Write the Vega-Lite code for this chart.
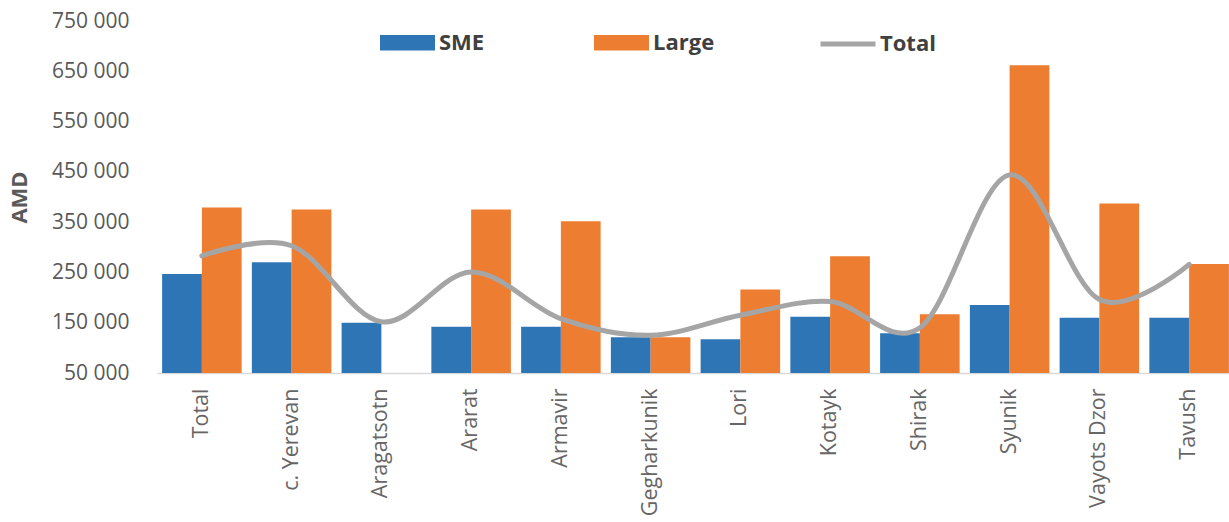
{
  "$schema": "https://vega.github.io/schema/vega-lite/v6.json",
  "width": 1077,
  "height": 352,
  "autosize": "none",
  "padding": {"left": 157, "top": 21, "right": 0, "bottom": 149},
  "background": "white",
  "config": {"font": "Open Sans", "view": {"stroke": null}},
  "data": {
    "values": [
      {"region": "Total", "type": "SME", "value": 247000},
      {"region": "Total", "type": "Large", "value": 379000},
      {"region": "Total", "type": "Total", "value": 283000},
      {"region": "c. Yerevan", "type": "SME", "value": 270000},
      {"region": "c. Yerevan", "type": "Large", "value": 375000},
      {"region": "c. Yerevan", "type": "Total", "value": 303000},
      {"region": "Aragatsotn", "type": "SME", "value": 150000},
      {"region": "Aragatsotn", "type": "Total", "value": 152000},
      {"region": "Ararat", "type": "SME", "value": 142000},
      {"region": "Ararat", "type": "Large", "value": 375000},
      {"region": "Ararat", "type": "Total", "value": 251000},
      {"region": "Armavir", "type": "SME", "value": 142000},
      {"region": "Armavir", "type": "Large", "value": 352000},
      {"region": "Armavir", "type": "Total", "value": 158000},
      {"region": "Gegharkunik", "type": "SME", "value": 121000},
      {"region": "Gegharkunik", "type": "Large", "value": 121000},
      {"region": "Gegharkunik", "type": "Total", "value": 125000},
      {"region": "Lori", "type": "SME", "value": 117000},
      {"region": "Lori", "type": "Large", "value": 216000},
      {"region": "Lori", "type": "Total", "value": 165000},
      {"region": "Kotayk", "type": "SME", "value": 162000},
      {"region": "Kotayk", "type": "Large", "value": 282000},
      {"region": "Kotayk", "type": "Total", "value": 192000},
      {"region": "Shirak", "type": "SME", "value": 129000},
      {"region": "Shirak", "type": "Large", "value": 167000},
      {"region": "Shirak", "type": "Total", "value": 140000},
      {"region": "Syunik", "type": "SME", "value": 185000},
      {"region": "Syunik", "type": "Large", "value": 662000},
      {"region": "Syunik", "type": "Total", "value": 444000},
      {"region": "Vayots Dzor", "type": "SME", "value": 160000},
      {"region": "Vayots Dzor", "type": "Large", "value": 387000},
      {"region": "Vayots Dzor", "type": "Total", "value": 196000},
      {"region": "Tavush", "type": "SME", "value": 160000},
      {"region": "Tavush", "type": "Large", "value": 267000},
      {"region": "Tavush", "type": "Total", "value": 266000}
    ]
  },
  "encoding": {
    "x": {
      "field": "region",
      "type": "nominal",
      "sort": null,
      "scale": {"paddingInner": 0.114, "paddingOuter": 0.057},
      "axis": {
        "title": null,
        "labelAngle": -90,
        "labelAlign": "right",
        "labelBaseline": "middle",
        "labelFontSize": 21.5,
        "labelColor": "#666666",
        "labelPadding": 15,
        "ticks": false,
        "domainColor": "#D9D9D9",
        "domainWidth": 1.5
      }
    }
  },
  "layer": [
    {
      "transform": [{"filter": "datum.type !== 'Total'"}],
      "mark": {"type": "bar", "clip": true},
      "encoding": {
        "xOffset": {
          "field": "type",
          "type": "nominal",
          "sort": ["SME", "Large"],
          "scale": {"domain": ["SME", "Large"], "paddingInner": 0, "paddingOuter": 0}
        },
        "y": {
          "field": "value",
          "type": "quantitative",
          "scale": {"domain": [50000, 750000], "zero": false, "nice": false},
          "axis": {
            "title": "AMD",
            "titleFontSize": 22,
            "titleFontWeight": "bold",
            "titleColor": "#595959",
            "titlePadding": 20,
            "values": [50000, 150000, 250000, 350000, 450000, 550000, 650000, 750000],
            "labelExpr": "replace(format(datum.value, ','), ',', ' ')",
            "labelFontSize": 21,
            "labelColor": "#595959",
            "labelPadding": 28,
            "labelFlush": false,
            "ticks": false,
            "domain": false,
            "grid": false
          }
        },
        "fill": {
          "field": "type",
          "type": "nominal",
          "scale": {"domain": ["SME", "Large"], "range": ["#2E75B6", "#ED7D31"]},
          "legend": {
            "title": null,
            "orient": "none",
            "legendX": 223,
            "legendY": -6,
            "direction": "horizontal",
            "symbolType": "M-1,-0.28H1V0.28H-1Z",
            "symbolSize": 3025,
            "symbolStrokeWidth": 0,
            "labelFontSize": 22,
            "labelFontWeight": "bold",
            "labelColor": "#404040",
            "labelOffset": 4,
            "columnPadding": 109
          }
        }
      }
    },
    {
      "transform": [{"filter": "datum.type === 'Total'"}],
      "mark": {"type": "line", "interpolate": "cardinal", "tension": 0, "strokeWidth": 5, "strokeCap": "round"},
      "encoding": {
        "y": {"field": "value", "type": "quantitative"},
        "stroke": {
          "field": "type",
          "type": "nominal",
          "scale": {"domain": ["Total"], "range": ["#A5A5A5"]},
          "legend": {
            "title": null,
            "orient": "none",
            "legendX": 661,
            "legendY": -7,
            "symbolType": "stroke",
            "symbolSize": 3025,
            "symbolStrokeWidth": 5,
            "labelFontSize": 22,
            "labelFontWeight": "bold",
            "labelColor": "#404040",
            "labelOffset": 2
          }
        }
      }
    }
  ]
}
